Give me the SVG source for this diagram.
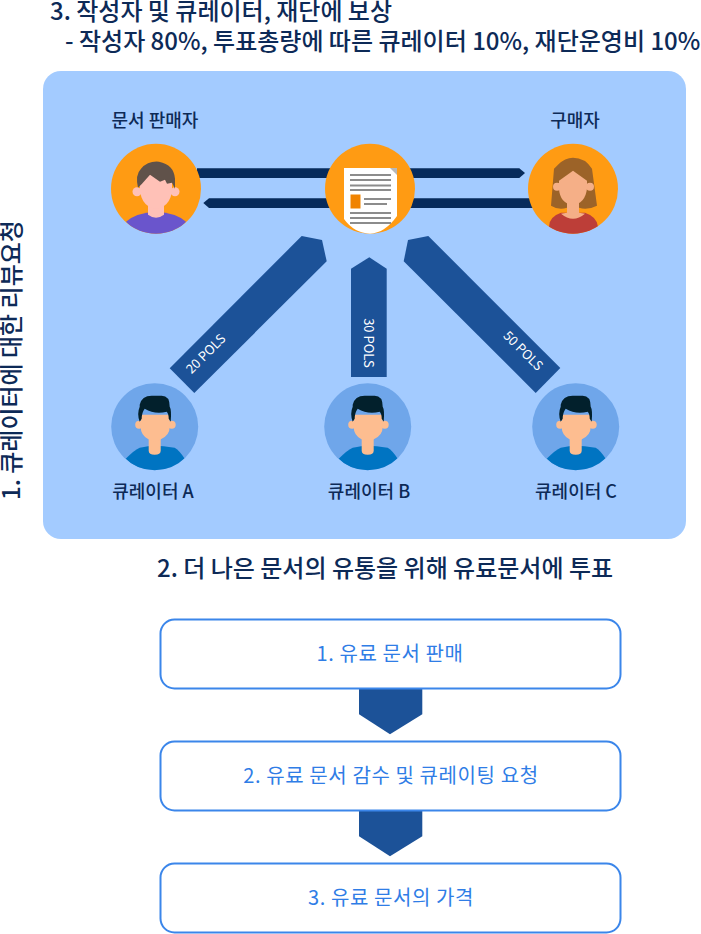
<svg xmlns="http://www.w3.org/2000/svg" xmlns:xlink="http://www.w3.org/1999/xlink" width="701" height="934" viewBox="0 0 701 934">
<style>
text{font-family:"Noto Sans CJK KR","Noto Sans",sans-serif}
.h{font-size:24px;font-weight:500;fill:#0d2a57}
.l{font-size:18px;font-weight:500;fill:#0d2a57;text-anchor:middle}
.b{font-size:20px;fill:#2f7de6;text-anchor:middle;letter-spacing:.6px}
.p{font-size:13px;fill:#fff;text-anchor:middle}
.box{fill:#fff;stroke:#3b86ea;stroke-width:2}
.big{fill:#1c5298}
.bar{fill:#062b5c}
.or{fill:#ff9b13}
</style>
<defs>
<clipPath id="cs"><circle cx="0" cy="0" r="45"/></clipPath>
<clipPath id="cc"><circle cx="0" cy="0" r="43.5"/></clipPath>
<g id="curator">
<circle r="43.5" fill="#6fa6ea"/>
<g clip-path="url(#cc)">
<path d="M-29 32Q-20 23-15 21Q-6 19 0 19Q8 19 20 21Q25 24 30 32Q20 44 0 44Q-18 44-29 32Z" fill="#0074c2"/>
<path d="M-6 10H6V24Q6 28 0 28Q-6 28-6 24Z" fill="#fdbd90"/>
<circle cx="-15.500" cy="-2" r="4" fill="#fdbd90"/><circle cx="17" cy="-2" r="4" fill="#fdbd90"/>
<path d="M-14-12H15V0Q15 8 7 12Q3 15 0 15Q-3 15-7 12Q-14 8-14 0Z" fill="#fdbd90"/>
<path d="M-15-22Q-13-31-3-31H7Q15-31 15-20Q17-17 16-5L14-8Q14-13 12-15Q0-12-10-18Q-13-14-13-8L-15-5Q-18-13-15-20Z" fill="#02202c"/>
</g>
</g>
</defs>
<rect width="701" height="934" fill="#fff"/>
<rect x="43" y="71" width="643" height="468" rx="18" fill="#a3cbff"/>
<g id="connectors">
<path class="bar" d="M197 168.300H519.300L525 173L519.300 178H197Z"/>
<path class="bar" d="M203.300 203L209 198.300H534V208H209Z"/>
<polygon class="big" points="301.700,236 322,240 326.700,261.300 194.300,393 169.700,368.300"/>
<polygon class="big" points="369.300,257.300 386.700,268.700 386.700,377 351,377 351,268.700"/>
<polygon class="big" points="428.300,236 408,240 403.700,261.300 535.700,393 560.300,368"/>
<polygon class="big" points="359,689 422.300,689 422.300,714.300 390,734.300 359,714.300"/>
<polygon class="big" points="359,811 422.300,811 422.300,836.300 390,856.300 359,836.300"/>
</g>
<g id="titles">
<text class="h" x="50" y="20">3. 작성자 및 큐레이터, 재단에 보상</text>
<text class="h" x="65" y="50">- 작성자 80%, 투표총량에 따른 큐레이터 10%, 재단운영비 10%</text>
<text class="h" x="157" y="577">2. 더 나은 문서의 유통을 위해 유료문서에 투표</text>
<text class="h" transform="translate(20 500) rotate(-90)">1. 큐레이터에 대한 리뷰요청</text>
</g>
<g id="seller">
<text class="l" x="155" y="127">문서 판매자</text>
<g transform="translate(156 188.700)">
<circle class="or" r="45"/>
<g clip-path="url(#cs)">
<path d="M-30 33Q-20 24 0 23Q20 24 30 33Q20 46 0 46Q-20 46-30 33Z" fill="#6a55cc"/>
<path d="M-8 14H8V26Q0 32-8 26Z" fill="#ffc1b7"/>
<circle cx="-19" cy="3" r="4.500" fill="#ffc1b7"/><circle cx="19" cy="3" r="4.500" fill="#ffc1b7"/>
<path d="M-16-14H16V3Q14 14 7 18Q0 22-7 18Q-14 14-16 3Z" fill="#ffc1b7"/>
<path d="M-18-1Q-21-14-15-20Q-8-28 3-27Q18-24 19-10V0L16-6L11-5L9-9L4-7L-6-14L-14-5Z" fill="#60524a"/>
</g>
</g>
</g>
<g id="document">
<circle class="or" cx="370" cy="188.700" r="45"/>
<path d="M344 168H397V216Q385 233 370 233.700Q354 233 344 219Z" fill="#fff"/>
<path d="M390 168H397V175Z" fill="#b8b8b8"/>
<g fill="#8c8c8c">
<rect x="350" y="174" width="41" height="2"/><rect x="350" y="179" width="41" height="2"/><rect x="350" y="184.500" width="41" height="2"/><rect x="350" y="189" width="41" height="2"/>
<rect x="364" y="198" width="27" height="2"/><rect x="364" y="203" width="23" height="2"/>
<rect x="350" y="212" width="41" height="2"/><rect x="350" y="217" width="41" height="2"/><rect x="350" y="222" width="41" height="2"/>
</g>
<rect x="350.500" y="194.500" width="10" height="14" fill="#f08300"/>
</g>
<g id="buyer">
<text class="l" x="575" y="127">구매자</text>
<g transform="translate(573 188.700)">
<circle class="or" r="45"/>
<g clip-path="url(#cs)">
<path d="M-24 38Q-24 28-12 24H12Q24 28 25 38Q15 46 0 46Q-15 46-24 38Z" fill="#bd3e38"/>
<path d="M-6 14H6V24L12 25Q0 35-12 25L-6 24Z" fill="#f5af87"/>
<path d="M-15-24Q-8-31 0-31Q12-31 19-20L24 17Q14 22 6 19V10H-6V19Q-14 22-22 17L-19-20Z" fill="#9c6328"/>
<circle cx="-16" cy="-2" r="4" fill="#f5af87"/><circle cx="17" cy="-2" r="4" fill="#f5af87"/>
<path d="M0-18L14-8V0Q12 15 0 16Q-13 15-14 0V-8Z" fill="#f5af87"/>
</g>
</g>
</g>
<g id="curator-a"><use xlink:href="#curator" href="#curator" x="154.700" y="426.700"/><text class="l" x="153" y="498">큐레이터 A</text>
<text class="p" transform="translate(209 357) rotate(-45)">20 POLS</text></g>
<g id="curator-b"><use xlink:href="#curator" href="#curator" x="367.700" y="426.700"/><text class="l" x="369" y="498">큐레이터 B</text>
<text class="p" transform="translate(364 343) rotate(90)">30 POLS</text></g>
<g id="curator-c"><use xlink:href="#curator" href="#curator" x="575.700" y="426.700"/><text class="l" x="576" y="498">큐레이터 C</text>
<text class="p" transform="translate(520 354) rotate(45)">50 POLS</text></g>
<g id="step-1"><rect class="box" x="160.500" y="619.500" width="460" height="69" rx="14"/><text class="b" x="390" y="661">1. 유료 문서 판매</text></g>
<g id="step-2"><rect class="box" x="160.500" y="741.500" width="460" height="69" rx="14"/><text class="b" x="391" y="783">2. 유료 문서 감수 및 큐레이팅 요청</text></g>
<g id="step-3"><rect class="box" x="160.500" y="863.500" width="460" height="69" rx="14"/><text class="b" x="391" y="905">3. 유료 문서의 가격</text></g>
</svg>
